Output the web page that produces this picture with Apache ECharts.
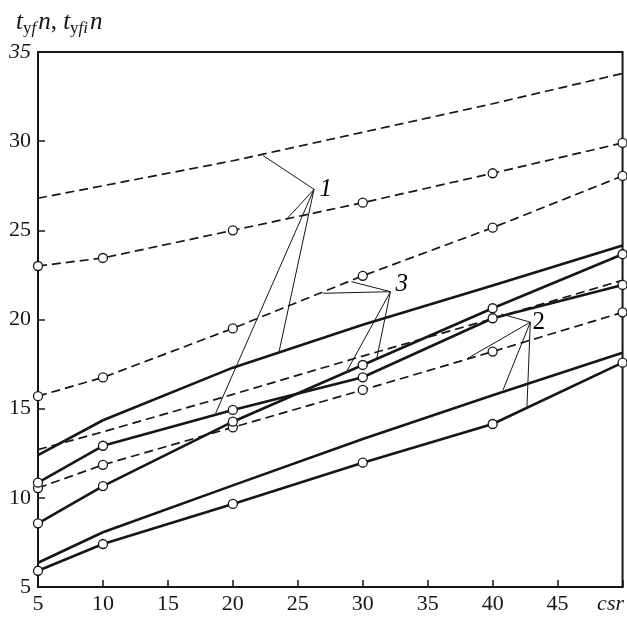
<!DOCTYPE html>
<html>
<head>
<meta charset="utf-8">
<script src="https://cdn.jsdelivr.net/npm/echarts@6/dist/echarts.min.js"></script>
<style>html,body{margin:0;padding:0;background:#fff}#c{width:627px;height:618px}</style>
</head>
<body>
<div id="c"></div>
<script>
// ---- data ----
const xs = [5, 10, 20, 30, 40, 50];
// dashed curves
const d1 = [26.8, 27.5, 28.9, 30.5, 32.1, 33.8];      // no markers
const d2 = [23.0, 23.45, 25.0, 26.55, 28.2, 29.9];    // markers
const d3 = [15.7, 16.75, 19.5, 22.45, 25.15, 28.05];  // markers
const d4 = [12.7, 13.7, 15.8, 17.95, 20.05, 22.2];    // no markers
const d5 = [10.55, 11.85, 13.95, 16.05, 18.2, 20.4];  // markers
// solid curves
const s1 = [12.4, 14.35, 17.3, 19.7, 21.9, 24.15];    // no markers
const sB = [10.85, 12.92, 14.93, 16.76, 20.07, 21.94];// markers
const sC = [8.57, 10.66, 14.27, 17.45, 20.63, 23.66]; // markers
const s5 = [6.36, 8.07, 10.7, 13.3, 15.75, 18.14];    // no markers
const s6 = [5.91, 7.41, 9.66, 11.97, 14.14, 17.58];   // markers
// tick labels
const xTicks = [5, 10, 15, 20, 25, 30, 35, 40, 45, 50];
const yTicks = [5, 10, 15, 20, 25, 30, 35];
// curve-label annotations: hub point, leader ends, label position
const labelNames = ['1', '3', '2'];
const labelPos = [[27.15, 27.27], [33.0, 21.94], [43.54, 19.86]];
const hubs = [[26.25, 27.3], [32.13, 21.56], [42.9, 19.85]];
const leaderEnds = [
  [[22.33, 29.19], [24.13, 25.62], [18.67, 14.73], [23.56, 18.2]],
  [[29.13, 22.12], [26.95, 21.47], [28.75, 17.07], [31.05, 17.73]],
  [[40.67, 20.31], [38.1, 17.83], [40.8, 16.05], [42.64, 15.11]]
];

const INK = '#161616';
const SERIF = 'Liberation Serif, DejaVu Serif, serif';
const pair = arr => xs.map((x, i) => [x, arr[i]]);

function curve(arr, dashed, markers) {
  return {
    type: 'line',
    data: pair(arr),
    smooth: false,
    symbol: markers ? 'circle' : 'none',
    symbolSize: 9,
    showSymbol: markers,
    itemStyle: { color: '#fff', borderColor: INK, borderWidth: 1.3 },
    lineStyle: dashed
      ? { color: INK, width: 1.7, type: [9, 5] }
      : { color: INK, width: 2.6 },
    z: markers ? 4 : 3,
    silent: true,
    animation: false
  };
}

const leaderData = [];
hubs.forEach((h, k) => leaderEnds[k].forEach(e => leaderData.push({ coords: [h, e] })));

const base = { fontFamily: SERIF, fontWeight: 'normal', color: INK };

const chart = echarts.init(document.getElementById('c'));
chart.setOption({
  animation: false,
  backgroundColor: '#fff',
  title: {
    left: 11, top: 2,
    text: '{t|t}{u|y}{s|f}{n|n}{c|, }{t|t}{u|y}{s|fi}{n|n}',
    textStyle: {
      fontWeight: 'normal', fontFamily: SERIF,
      rich: {
        t: Object.assign({}, base, { fontStyle: 'italic', fontSize: 25, lineHeight: 30, verticalAlign: 'middle' }),
        n: Object.assign({}, base, { fontStyle: 'italic', fontSize: 25, lineHeight: 30, verticalAlign: 'middle', padding: [0, 0, 0, 2] }),
        c: Object.assign({}, base, { fontSize: 25, lineHeight: 30, verticalAlign: 'middle' }),
        u: Object.assign({}, base, { fontSize: 17, lineHeight: 19, verticalAlign: 'bottom' }),
        s: Object.assign({}, base, { fontStyle: 'italic', fontSize: 17, lineHeight: 19, verticalAlign: 'bottom' })
      }
    }
  },
  grid: {
    left: 38, right: 4, top: 52, bottom: 31,
    show: true, borderColor: INK, borderWidth: 2, backgroundColor: 'transparent'
  },
  xAxis: {
    type: 'value', min: 5, max: 50, interval: 5,
    axisLine: { show: true, onZero: false, lineStyle: { color: INK, width: 2 } },
    axisTick: { show: true, inside: true, length: 7, lineStyle: { color: INK, width: 1.5 } },
    splitLine: { show: false },
    axisLabel: {
      margin: 6, color: INK, fontFamily: SERIF, fontSize: 22,
      formatter: v => xTicks.includes(v) ? (v === 50 ? '{i|csr}' : String(v)) : '',
      rich: { i: Object.assign({}, base, { fontStyle: 'italic', fontSize: 22, padding: [0, 24, 0, 0] }) }
    }
  },
  yAxis: {
    type: 'value', min: 5, max: 35, interval: 5,
    axisLine: { show: true, onZero: false, lineStyle: { color: INK, width: 2 } },
    axisTick: { show: true, inside: true, length: 7, lineStyle: { color: INK, width: 1.5 } },
    splitLine: { show: false },
    axisLabel: {
      margin: 7, color: INK, fontFamily: SERIF, fontSize: 22,
      formatter: v => yTicks.includes(v) ? (v === 35 ? '{i|35}' : String(v)) : '',
      rich: { i: Object.assign({}, base, { fontStyle: 'italic', fontSize: 22 }) }
    }
  },
  series: [
    curve(d1, true, false),
    curve(d2, true, true),
    curve(d3, true, true),
    curve(d4, true, false),
    curve(d5, true, true),
    curve(s1, false, false),
    curve(sB, false, true),
    curve(sC, false, true),
    curve(s5, false, false),
    curve(s6, false, true),
    {
      type: 'lines', coordinateSystem: 'cartesian2d', polyline: false,
      data: leaderData, silent: true, z: 2,
      lineStyle: { color: INK, width: 1, opacity: 1 },
      effect: { show: false }
    }
  ]
});

// curve labels placed through the chart's own coordinate conversion
chart.setOption({
  graphic: labelPos.map((p, i) => {
    const px = chart.convertToPixel({ gridIndex: 0 }, p);
    return {
      type: 'text', x: px[0], y: px[1], z: 10, silent: true,
      style: {
        text: labelNames[i], fill: '#000',
        font: (labelNames[i] === '2' ? 'normal ' : 'italic ') + '25px ' + SERIF,
        align: 'center', verticalAlign: 'middle'
      }
    };
  })
});
</script>
</body>
</html>
